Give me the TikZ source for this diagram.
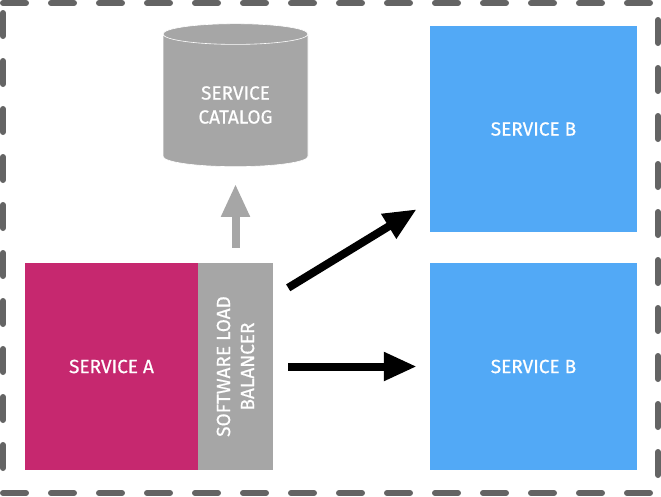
\documentclass[tikz,border=0pt]{standalone}
\usepackage{fontspec}
\setmainfont{Fira Sans}[FakeBold=0.6]
\usetikzlibrary{arrows.meta}
\usetikzlibrary{shapes.geometric}
\definecolor{svcpink}{HTML}{C6286F}
\definecolor{lbgray}{HTML}{A6A6A6}
\definecolor{svcblue}{HTML}{52A9F6}
\definecolor{bordergray}{HTML}{646464}
\tikzset{box/.style = {draw=none, inner sep=0, text=white,
                       font=\fontsize{19}{24}\selectfont, align=center}}
\tikzset{border/.style = {bordergray, line width=6pt, line cap=round,
                          dash pattern=on 23pt off 25pt}}
\tikzset{bigarrow/.style = {line width=8pt,
                            -{Triangle[length=33pt,width=27pt]}}}

\begin{document}
\begin{tikzpicture}[x=1pt, y=-1pt]
    \useasboundingbox (0,0) rectangle (661,496);

    \draw [border] (3,3) -- (658,3);
    \draw [border] (3,13) -- (3,493);
    \draw [border] (658,20) -- (658,493);
    \draw [border] (3,493) -- (658,493);

    \node [box, fill=svcpink, minimum width=173, minimum height=207] (svca) at (111.5, 366.5) {SERVICE A};
    \node [box, fill=lbgray, minimum width=207, minimum height=75, rotate=90] (lb) at (235.5, 366.5) {SOFTWARE LOAD\\BALANCER};

    \node [box, fill=svcblue, minimum width=207, minimum height=206] (svcb1) at (533.5, 129) {SERVICE B};
    \node [box, fill=svcblue, minimum width=207, minimum height=207] (svcb2) at (533.5, 366.5) {SERVICE B};

    \node [box, cylinder, shape border rotate=90, aspect=0.28, draw=white, line width=0.6pt,
           fill=lbgray, minimum width=145, minimum height=143,
           label={[box, yshift=-4.5pt]center:SERVICE\\CATALOG}] (cat) at (235.5, 100.5)
           {\phantom{SERVICE}\\\phantom{CATALOG}};

    \draw [bigarrow, lbgray, shorten <=15pt, shorten >=17pt] (lb.east) -- (cat.south);
    \draw [bigarrow] ([xshift=15pt, yshift=-25pt]lb.south east) -- ([xshift=-13pt, yshift=23pt]svcb1.south west);
    \draw [bigarrow, shorten <=15pt, shorten >=13pt] (lb.south) -- (svcb2.west);
\end{tikzpicture}
\end{document}
